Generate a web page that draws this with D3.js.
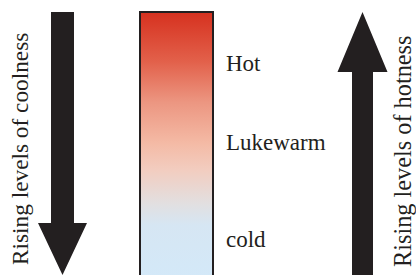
<!DOCTYPE html>
<html>
<head>
<meta charset="utf-8">
<script src="https://cdn.jsdelivr.net/npm/d3@7"></script>
<style>
  body { margin: 0; background: #fff; }
  svg { display: block; }
  text { font-family: "Liberation Serif", "Times New Roman", serif; fill: #231f20; }
</style>
</head>
<body>
<svg width="416" height="275"></svg>
<script>
// labels along the bar and their level (0 = bottom, 1 = top)
const labels = ["Hot", "Lukewarm", "cold"];
const levels = [0.776, 0.475, 0.106];

// gradient stops from top (0) to bottom (1)
const stopOffsets = [0, 0.18, 0.33, 0.48, 0.58, 0.7, 0.78, 1];
const stopColors = ["#d6311f", "#e2604a", "#ec9681", "#f4baa5", "#f2cdc0", "#e2dfe0", "#d6e6f3", "#d3e9f9"];

// arrow captions
const arrowTexts = ["Rising levels of coolness", "Rising levels of hotness"];

const width = 416;
const height = 275;
const svg = d3.select("svg");

const y = d3.scaleLinear().domain([0, 1]).range([275, 12]);

// gradient
const grad = svg.append("defs").append("linearGradient")
    .attr("id", "temp")
    .attr("x1", 0).attr("y1", 0).attr("x2", 0).attr("y2", 1);
grad.selectAll("stop")
    .data(stopOffsets)
    .enter().append("stop")
    .attr("offset", d => d)
    .attr("stop-color", (d, i) => stopColors[i]);

// colour bar
svg.append("rect")
    .attr("x", 140)
    .attr("y", y(1))
    .attr("width", 73)
    .attr("height", height - y(1) + 10)
    .attr("fill", "url(#temp)")
    .attr("stroke", "#231f20")
    .attr("stroke-width", 2);

// labels
svg.selectAll(".label")
    .data(labels)
    .enter().append("text")
    .attr("class", "label")
    .attr("x", 226)
    .attr("y", (d, i) => y(levels[i]))
    .attr("font-size", 23)
    .text(d => d);

// arrows: shaft, head
function arrow(cx, shaftW, headW, tail, headBase, tip) {
    const s = shaftW / 2, h = headW / 2;
    return `M${cx - s},${tail}L${cx + s},${tail}L${cx + s},${headBase}L${cx + h},${headBase}` +
        `L${cx},${tip}L${cx - h},${headBase}L${cx - s},${headBase}Z`;
}

svg.append("path")
    .attr("d", arrow(62.5, 23, 49, y(1), 223, height))
    .attr("fill", "#231f20");

svg.append("path")
    .attr("d", arrow(362.5, 21, 50, height, 72, y(1)))
    .attr("fill", "#231f20");

// rotated captions
svg.selectAll(".caption")
    .data(arrowTexts)
    .enter().append("text")
    .attr("class", "caption")
    .attr("font-size", (d, i) => i === 0 ? 23.3 : 24.3)
    .attr("transform", (d, i) => i === 0 ? "translate(28,265) rotate(-90)" : "translate(411,267) rotate(-90)")
    .text(d => d);
</script>
</body>
</html>
